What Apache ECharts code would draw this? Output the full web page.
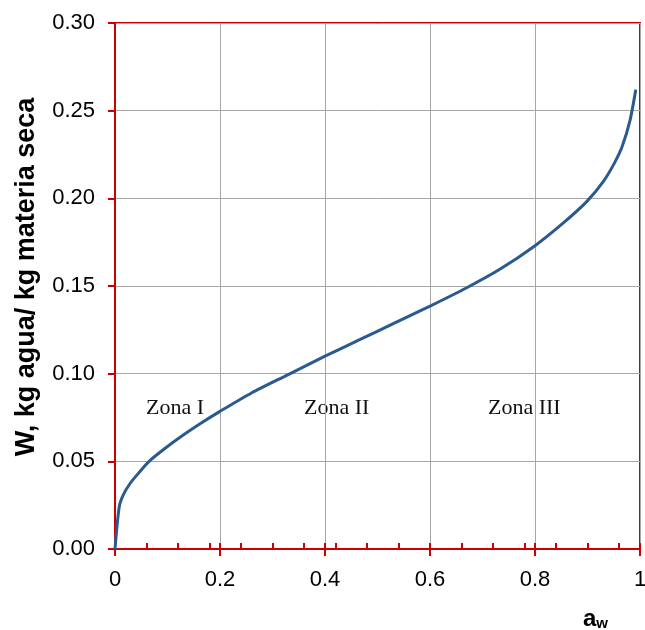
<!DOCTYPE html>
<html>
<head>
<meta charset="utf-8">
<script src="https://cdn.jsdelivr.net/npm/echarts@6/dist/echarts.min.js"></script>
<style>
html,body{margin:0;padding:0;background:#fff;overflow:hidden;}
#chart{width:645px;height:630px;}
</style>
</head>
<body>
<div id="chart"></div>
<script>
// Data
var aw = [0, 0.008, 0.016, 0.029, 0.044, 0.065, 0.098, 0.13, 0.165, 0.2, 0.26, 0.33, 0.4, 0.467, 0.53, 0.6, 0.67, 0.733, 0.8, 0.854, 0.898, 0.93, 0.952, 0.966, 0.981, 0.992];
var W  = [0, 0.024, 0.031, 0.0375, 0.043, 0.050, 0.058, 0.065, 0.072, 0.0785, 0.089, 0.0995, 0.110, 0.1195, 0.1285, 0.1385, 0.149, 0.1595, 0.173, 0.186, 0.198, 0.2095, 0.2205, 0.2295, 0.2445, 0.262];
var xTickLabels = ['0', '0.2', '0.4', '0.6', '0.8', '1'];
var xMinorTicks = [0, 0.06, 0.12, 0.18, 0.2, 0.24, 0.3, 0.36, 0.4, 0.42, 0.48, 0.54, 0.6, 0.66, 0.72, 0.78, 0.8, 0.84, 0.9, 0.96, 1];
var zoneLabels = ['Zona I', 'Zona II', 'Zona III'];
var yAxisTitle = 'W, kg agua/ kg materia seca';

var RED = '#CC0000';
var GRID = '#A6A6A6';
var FONT = "'Liberation Sans', Arial, sans-serif";
var SERIF = "22px 'Liberation Serif', 'DejaVu Serif', serif";

var points = aw.map(function (x, i) { return [x, W[i]]; });

var chart = echarts.init(document.getElementById('chart'), null, {renderer: 'canvas'});
chart.setOption({
  animation: false,
  backgroundColor: '#fff',
  grid: {left: 115, right: 5, top: 23, bottom: 81, show: true, borderColor: RED, borderWidth: 2,
    backgroundColor: 'transparent', containLabel: false, outerBoundsMode: 'none'},
  xAxis: [{
    type: 'value', min: 0, max: 1, interval: 0.2, position: 'bottom',
    axisLine: {show: true, onZero: false, lineStyle: {color: RED, width: 2}},
    axisTick: {show: true, inside: false, length: 7, lineStyle: {color: RED, width: 2}},
    axisLabel: {color: '#000', fontFamily: FONT, fontSize: 22, margin: 20,
      formatter: function (v) { return xTickLabels[Math.round(v / 0.2)]; }},
    splitLine: {show: true, lineStyle: {color: GRID, width: 1}}
  }, {
    type: 'value', min: 0, max: 1, position: 'bottom',
    axisLine: {show: false},
    axisTick: {show: true, inside: true, length: 6, customValues: xMinorTicks, lineStyle: {color: RED, width: 2}},
    axisLabel: {show: false},
    splitLine: {show: false}
  }],
  yAxis: {
    type: 'value', min: 0, max: 0.3, interval: 0.05,
    name: yAxisTitle, nameLocation: 'middle', nameRotate: 90, nameGap: 75,
    nameTextStyle: {color: '#000', fontFamily: FONT, fontSize: 27, fontWeight: 'bold', padding: [0, 0, 0, 18]},
    axisLine: {show: true, onZero: false, lineStyle: {color: RED, width: 2}},
    axisTick: {show: true, inside: false, length: 7, lineStyle: {color: RED, width: 2}},
    axisLabel: {color: '#000', fontFamily: FONT, fontSize: 22, margin: 20,
      formatter: function (v) { return v.toFixed(2); }},
    splitLine: {show: true, lineStyle: {color: GRID, width: 1}}
  },
  graphic: [
    {type: 'text', left: 146, top: 397, style: {text: zoneLabels[0], font: SERIF, fill: '#111'}},
    {type: 'text', left: 304, top: 397, style: {text: zoneLabels[1], font: SERIF, fill: '#111'}},
    {type: 'text', left: 488, top: 397, style: {text: zoneLabels[2], font: SERIF, fill: '#111'}},
    {type: 'text', left: 583, top: 607, style: {
      text: '{a|a}{w|w}',
      rich: {
        a: {fontFamily: FONT, fontSize: 24, fontWeight: 'bold', fill: '#000', verticalAlign: 'bottom'},
        w: {fontFamily: FONT, fontSize: 15, fontWeight: 'bold', fill: '#000', padding: [12, 0, 0, 0]}
      }
    }}
  ],
  series: [{
    type: 'line', xAxisIndex: 0, data: points, showSymbol: false, smooth: 0.25,
    lineStyle: {color: '#2A5A8E', width: 3}, z: 5
  }]
});
</script>
</body>
</html>
